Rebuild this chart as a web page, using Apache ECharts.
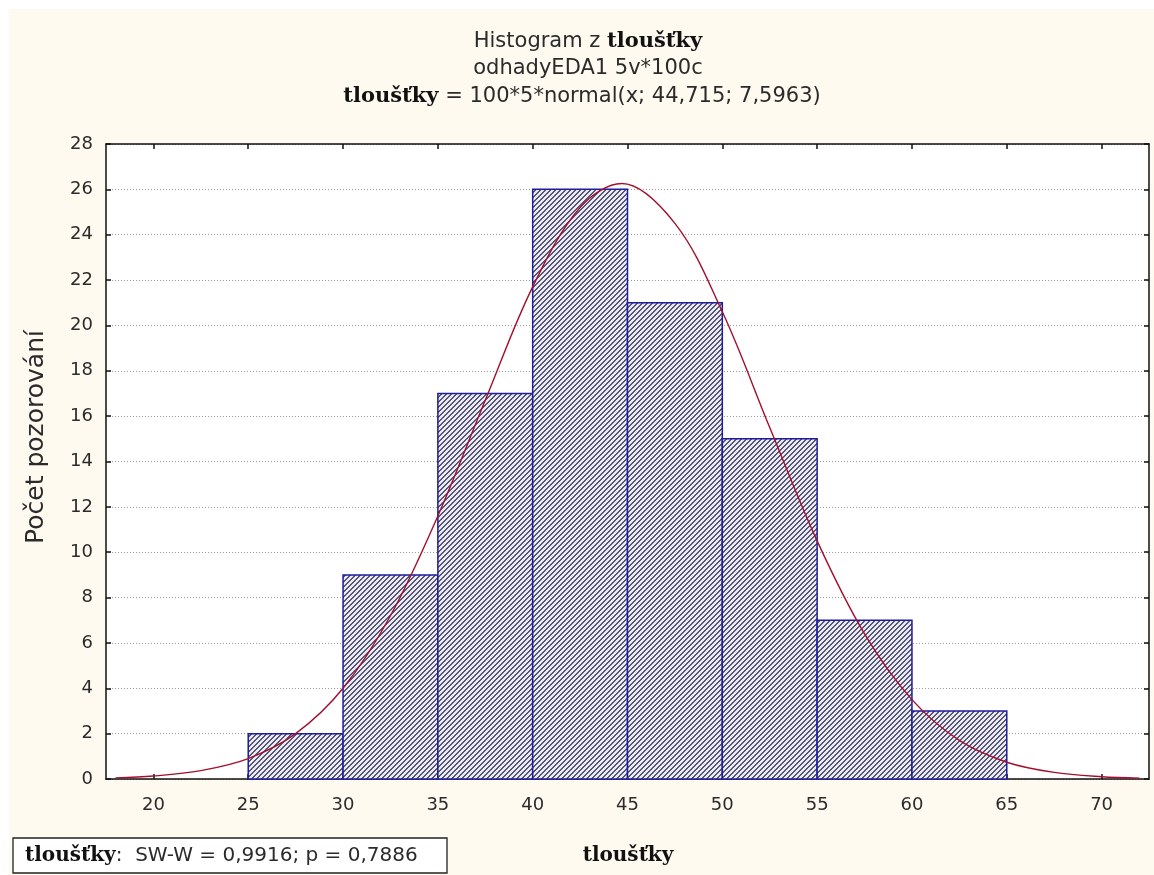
<!DOCTYPE html>
<html>
<head>
<meta charset="utf-8">
<script src="https://cdn.jsdelivr.net/npm/echarts@6/dist/echarts.min.js"></script>
<style>
  html, body { margin: 0; padding: 0; background: #ffffff; }
  #chart { width: 1154px; height: 875px; }
</style>
</head>
<body>
<div id="chart"></div>
<script>
// Histogram bins of thickness (tloušťky) and their counts
const binLow  = [25, 30, 35, 40, 45, 50, 55, 60];
const binHigh = [30, 35, 40, 45, 50, 55, 60, 65];
const counts  = [2, 9, 17, 26, 21, 15, 7, 3];

// Fitted normal curve, sampled points
const curveX = [18, 20, 22.5, 25, 27.5, 30, 32.5, 35, 37.5, 40, 42.5, 44.7, 47.5, 50, 52.5, 55, 57.5, 60, 62.5, 65, 67.5, 70, 72];
const curveY = [0.05, 0.13, 0.37, 0.9, 2.0, 4.0, 7.2, 11.6, 16.7, 21.7, 25.2, 26.26, 24.5, 20.6, 15.5, 10.5, 6.4, 3.5, 1.7, 0.74, 0.29, 0.1, 0.04];

// Axis tick labels
const xTicks = [20, 25, 30, 35, 40, 45, 50, 55, 60, 65, 70];

// Diagonal hatch fill for the bars
function hatchPattern() {
  const s = 5;
  const c = document.createElement('canvas');
  c.width = s; c.height = s;
  const g = c.getContext('2d');
  g.fillStyle = '#e9e9f7';
  g.fillRect(0, 0, s, s);
  g.fillStyle = '#56566e';
  for (let x = 0; x < s; x++) {
    g.fillRect(x, (s - 1 - x), 1, 1);
    g.fillRect(x, (s - x) % s, 1, 1);
  }
  return c;
}
const hatch = { image: hatchPattern(), repeat: 'repeat' };

const bins = binLow.map((lo, i) => [lo, binHigh[i], counts[i]]);
const curve = curveX.map((x, i) => [x, curveY[i]]);

const SANS = '"DejaVu Sans", Verdana, sans-serif';
const SERIF = '"DejaVu Serif", "Times New Roman", serif';
const textColor = '#2b2b2b';
const labelFont = { fontFamily: SANS, fontSize: 18, color: textColor };
const boldSerif = { fontFamily: SERIF, fontWeight: 'bold', fontSize: 21, fill: '#111' };
const plainSans = { fontFamily: SANS, fontSize: 21, fill: textColor };

const chart = echarts.init(document.getElementById('chart'), null, { renderer: 'canvas' });

chart.setOption({
  animation: false,
  backgroundColor: '#ffffff',
  grid: { left: 106, right: 5, top: 144, bottom: 96, show: true, backgroundColor: '#ffffff', borderWidth: 0 },
  graphic: [
    { type: 'rect', z: -10, shape: { x: 9, y: 9, width: 1145, height: 866 }, style: { fill: '#fffaf0' } },
    {
      type: 'text', x: 588, y: 42,
      style: {
        text: '{a|Histogram z }{b|tloušťky}', align: 'center', verticalAlign: 'middle',
        rich: { a: plainSans, b: boldSerif }
      }
    },
    {
      type: 'text', x: 588, y: 69,
      style: { text: 'odhadyEDA1 5v*100c', align: 'center', verticalAlign: 'middle', font: '21px ' + SANS, fill: textColor }
    },
    {
      type: 'text', x: 582, y: 97,
      style: {
        text: '{b|tloušťky}{a| = 100*5*normal(x; 44,715; 7,5963)}', align: 'center', verticalAlign: 'middle',
        rich: { a: plainSans, b: boldSerif }
      }
    },
    {
      type: 'text', x: 36, y: 437, rotation: Math.PI / 2,
      style: { text: 'Počet pozorování', align: 'center', verticalAlign: 'middle', font: '25px ' + SANS, fill: textColor }
    },
    {
      type: 'text', x: 628, y: 856,
      style: { text: 'tloušťky', align: 'center', verticalAlign: 'middle', font: 'bold 20px ' + SERIF, fill: '#111' }
    },
    {
      type: 'rect', shape: { x: 13, y: 838, width: 434, height: 35 },
      style: { fill: '#ffffff', stroke: '#222', lineWidth: 1.3 }
    },
    {
      type: 'text', x: 25, y: 856,
      style: {
        text: '{b|tloušťky}{a|:  SW-W = 0,9916; p = 0,7886}', align: 'left', verticalAlign: 'middle',
        rich: { a: { fontFamily: SANS, fontSize: 20, fill: textColor }, b: { fontFamily: SERIF, fontWeight: 'bold', fontSize: 20, fill: '#111' } }
      }
    }
  ],
  xAxis: [
    {
      type: 'value', min: 17.5, max: 72.5, position: 'bottom',
      axisLine: { show: true, onZero: false, lineStyle: { color: '#111', width: 1.5 } },
      axisTick: { show: true, inside: true, length: 5, customValues: xTicks, lineStyle: { color: '#111', width: 1.5 } },
      axisLabel: { show: true, customValues: xTicks, margin: 17, ...labelFont },
      splitLine: { show: false }
    },
    {
      type: 'value', min: 17.5, max: 72.5, position: 'top',
      axisLine: { show: true, onZero: false, lineStyle: { color: '#111', width: 1.5 } },
      axisTick: { show: true, inside: true, length: 5, customValues: xTicks, lineStyle: { color: '#111', width: 1.5 } },
      axisLabel: { show: false },
      splitLine: { show: false }
    }
  ],
  yAxis: [
    {
      type: 'value', min: 0, max: 28, interval: 2, position: 'left',
      axisLine: { show: true, lineStyle: { color: '#111', width: 1.5 } },
      axisTick: { show: true, inside: true, length: 5, lineStyle: { color: '#111', width: 1.5 } },
      axisLabel: { margin: 13, ...labelFont },
      splitLine: { show: true, lineStyle: { color: '#9a9a9a', type: [1, 2], width: 1 } }
    },
    {
      type: 'value', min: 0, max: 28, interval: 2, position: 'right',
      axisLine: { show: true, lineStyle: { color: '#111', width: 1.5 } },
      axisTick: { show: true, inside: true, length: 5, lineStyle: { color: '#111', width: 1.5 } },
      axisLabel: { show: false },
      splitLine: { show: false }
    }
  ],
  series: [
    {
      type: 'custom',
      xAxisIndex: 0, yAxisIndex: 0,
      data: bins,
      encode: { x: [0, 1], y: 2 },
      renderItem: function (params, api) {
        const p0 = api.coord([api.value(0), api.value(2)]);
        const p1 = api.coord([api.value(1), 0]);
        return {
          type: 'rect',
          shape: { x: p0[0], y: p0[1], width: p1[0] - p0[0], height: p1[1] - p0[1] },
          style: { fill: hatch, stroke: '#1d1d9e', lineWidth: 1.5 }
        };
      },
      z: 2
    },
    {
      type: 'line',
      xAxisIndex: 0, yAxisIndex: 0,
      data: curve,
      smooth: 0.35,
      symbol: 'none',
      lineStyle: { color: '#a3102e', width: 1.4 },
      z: 3
    }
  ]
});
</script>
</body>
</html>
